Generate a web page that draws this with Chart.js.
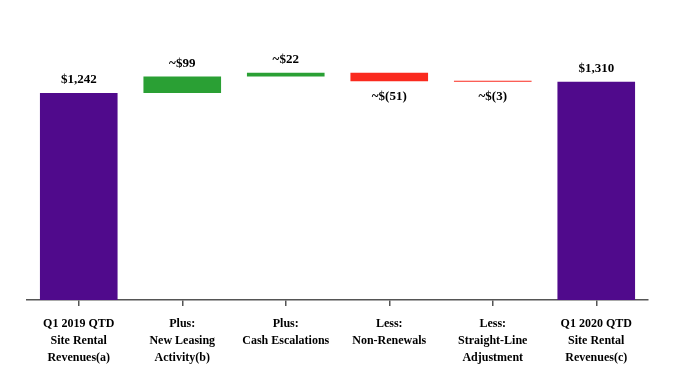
<!DOCTYPE html>
<html>
<head>
<meta charset="utf-8">
<script src="https://cdn.jsdelivr.net/npm/chart.js@4/dist/chart.umd.min.js"></script>
<style>
  html, body { margin: 0; padding: 0; background: #fff; }
  #wrap { width: 682px; height: 380px; }
</style>
</head>
<body>
<div id="wrap"><canvas id="waterfall"></canvas></div>
<script>
var categories = [
    ["Q1 2019 QTD", "Site Rental", "Revenues(a)"],
    ["Plus:", "New Leasing", "Activity(b)"],
    ["Plus:", "Cash Escalations"],
    ["Less:", "Non-Renewals"],
    ["Less:", "Straight-Line", "Adjustment"],
    ["Q1 2020 QTD", "Site Rental", "Revenues(c)"]
];
var startValue = 1242;
var changes = [99, 22, -51, -3];
var endValue = 1310;
var valueLabels = ["$1,242", "~$99", "~$22", "~$(51)", "~$(3)", "$1,310"];

var purple = 'rgb(80, 10, 140)';
var green = 'rgb(42, 160, 52)';
var red = 'rgb(250, 42, 30)';

// floating bars from running totals
var bars = [[0, startValue]];
var colors = [purple];
var running = startValue;
changes.forEach(function (c) {
    bars.push([running, running + c]);
    colors.push(c >= 0 ? green : red);
    running += c;
});
bars.push([0, endValue]);
colors.push(purple);

var valueLabelPlugin = {
    id: 'valueLabels',
    afterDatasetsDraw: function (chart) {
        var ctx = chart.ctx;
        var meta = chart.getDatasetMeta(0);
        ctx.save();
        ctx.font = 'bold 13px "Liberation Serif", "Times New Roman", serif';
        ctx.fillStyle = '#000';
        ctx.textAlign = 'center';
        ctx.textBaseline = 'middle';
        meta.data.forEach(function (bar, i) {
            var top = Math.min(bar.y, bar.base);
            var bottom = Math.max(bar.y, bar.base);
            var down = i > 0 && i < bars.length - 1 && changes[i - 1] < 0;
            var y = down ? bottom + 15 : top - 13;
            ctx.fillText(valueLabels[i], bar.x, y);
        });
        ctx.restore();
    }
};

var ctx = document.getElementById('waterfall').getContext('2d');
var chart = new Chart(ctx, {
    type: 'bar',
    data: {
        labels: categories,
        datasets: [{
            data: bars,
            backgroundColor: colors,
            borderWidth: 0,
            barPercentage: 0.75,
            categoryPercentage: 1.0,
            minBarLength: 1
        }]
    },
    options: {
        responsive: true,
        maintainAspectRatio: false,
        animation: false,
        layout: {
            padding: { left: 27, right: 34, top: 0, bottom: 0 }
        },
        plugins: {
            legend: { display: false },
            tooltip: { enabled: false }
        },
        scales: {
            x: {
                afterFit: function (scale) { scale.height = 80; },
                border: { display: true, color: '#555', width: 1.5 },
                grid: {
                    offset: false,
                    drawOnChartArea: false,
                    drawTicks: true,
                    tickLength: 6,
                    color: '#555',
                    lineWidth: 1.5
                },
                ticks: {
                    color: '#000',
                    padding: 9,
                    maxRotation: 0,
                    autoSkip: false,
                    font: { family: '"Liberation Serif", "Times New Roman", serif', size: 12, weight: 'bold', lineHeight: 1.42 }
                }
            },
            y: {
                display: false,
                min: 0,
                max: 1800
            }
        }
    },
    plugins: [valueLabelPlugin]
});
</script>
</body>
</html>
